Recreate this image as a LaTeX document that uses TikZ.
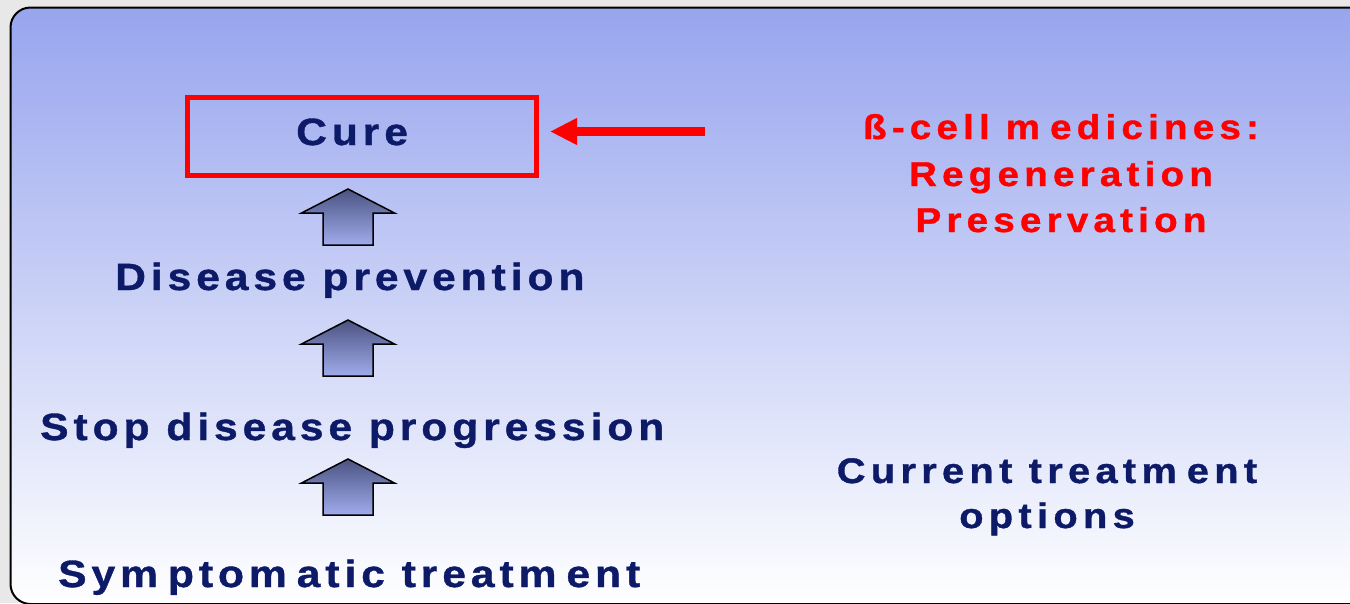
\documentclass[tikz,border=0pt]{standalone}
\usepackage{fontspec}
\setmainfont{Liberation Sans}
\newfontfamily\leftfont{Liberation Sans}[FakeStretch=1.12, LetterSpace=13, FakeBold=1]
\newfontfamily\rightfont{Liberation Sans}[FakeStretch=1.12, LetterSpace=15, FakeBold=1]
\usetikzlibrary{arrows.meta}
\definecolor{navy}{HTML}{0D1A68}
\definecolor{outergray}{HTML}{E8E8E8}
\definecolor{bgtop}{HTML}{97A5EE}
\definecolor{arrtop}{HTML}{4C5382}
\definecolor{arrbot}{HTML}{A0ACEC}
\definecolor{pured}{HTML}{FF0000}
\newcommand\mK{m\hspace{10pt}}
\tikzset{
  lbl/.style={font=\leftfont\bfseries\fontsize{38}{40}\selectfont, text=navy, inner sep=0pt, anchor=base west},
  rlbl/.style={font=\rightfont\bfseries\fontsize{34.5}{40}\selectfont, inner sep=0pt, anchor=base},
  rlbln/.style={font=\rightfont\bfseries\fontsize{35.5}{40}\selectfont, inner sep=0pt, anchor=base},
  upshape/.style={top color=arrtop, bottom color=arrbot, draw=black, line width=1.5pt, line join=miter},
  curebox/.style={draw=pured, line width=5pt, minimum width=349pt, minimum height=78pt, inner sep=0pt},
  redarrow/.style={draw=pured, line width=9pt, -{Triangle[length=27pt,width=25pt]}}
}
\begin{document}
\begin{tikzpicture}[x=1pt,y=-1pt]
\useasboundingbox (0,0) rectangle (1350,603);
\fill[outergray] (0,0) rectangle (1350,603);
\begin{scope}
\clip (0,0) rectangle (1350,603);
\shadedraw[top color=bgtop, bottom color=white, draw=black, line width=2pt, rounded corners=20pt] (10.5,7.5) rectangle (1380,604);
\end{scope}
% box and red arrow
\node[curebox] (box) at (362,136.5) {};
\node[lbl] (cure) at (296,145) {Cure};
\coordinate (rstart) at (705,131.5);
\draw[redarrow, shorten >=11pt] (rstart) -- (box.east |- rstart);
% up arrows
\foreach \ty in {189,320,459} {
  \shadedraw[upshape] (348,\ty) -- (394.5,\ty+24) -- (373,\ty+24) -- (373,\ty+56) -- (323,\ty+56) -- (323,\ty+24) -- (301.5,\ty+24) -- cycle;
}
% left labels
\node[lbl] (prev) at (115,290) {Disease prevention};
\node[lbl] (stop) at (40,440) {Stop disease progression};
\node[lbl] (sym) at (58,587) {Sy\mK pto\mK atic treat\mK ent};
% right labels
\node[rlbl, text=pured] (beta) at (1061,139) {ß-cell \mK edicines:};
\node[rlbl, text=pured] (regen) at (1061,186) {Regeneration};
\node[rlbl, text=pured] (pres) at (1061,232) {Preservation};
\node[rlbln, text=navy] (curr) at (1047,483) {Current treat\mK ent};
\node[rlbln, text=navy] (opt) at (1047,528) {options};
\end{tikzpicture}
\end{document}
